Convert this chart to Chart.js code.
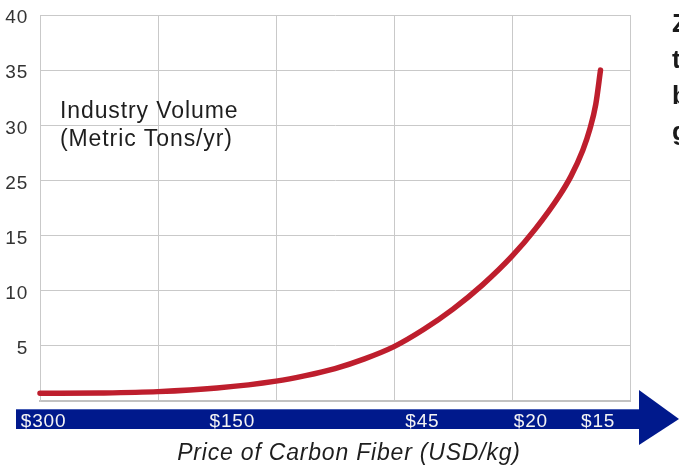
<!DOCTYPE html>
<html>
<head>
<meta charset="utf-8">
<script src="https://cdn.jsdelivr.net/npm/chart.js@4/dist/chart.umd.min.js"></script>
<style>
  html, body { margin: 0; padding: 0; background: #ffffff; }
  canvas { display: block; }
</style>
</head>
<body>
<canvas id="chart" width="679" height="465"></canvas>
<script>
// Position along the price axis (one unit per vertical gridline)
const pricePositions = [0, 0.5, 1.0, 1.5, 2.0, 2.25, 2.5, 2.75, 3.0, 3.25, 3.5, 3.75, 4.0, 4.2, 4.4, 4.5, 4.6, 4.66, 4.71, 4.75];
// Industry volume at each position, in gridline units (5 per gridline)
const volumes = [0.70, 0.73, 0.85, 1.18, 1.8, 2.3, 2.94, 3.82, 4.93, 6.48, 8.33, 10.53, 13.13, 15.63, 18.59, 20.39, 22.74, 24.66, 26.91, 30.0];

// Labels printed on the horizontal gridlines, bottom to top
const yTickLabels = ['', '5', '10', '15', '25', '30', '35', '40'];

// Price labels on the arrow band and where they sit along the axis
const priceTickPositions = [0.03, 1.63, 3.24, 4.16, 4.73];
const priceTickLabels = ['$300', '$150', '$45', '$20', '$15'];

const axisTitle = 'Price of Carbon Fiber (USD/kg)';
const seriesCaption = ['Industry Volume', '(Metric Tons/yr)'];
const sideLetters = ['Z', 't', 'b', 'g'];

const FONT = "'Liberation Sans', Arial, sans-serif";
const BAND_BLUE = '#00198c';

// Blue arrow band under the plot; price labels are drawn on top by the price scale
const arrowBand = {
  id: 'arrowBand',
  beforeDraw(chart) {
    const { ctx, chartArea } = chart;
    const top = chartArea.bottom + 8;
    const bottom = chartArea.bottom + 28;
    const left = chartArea.left - 24;
    const headX = chartArea.right + 9;
    const tipX = chart.width;
    const midY = (top + bottom) / 2;
    ctx.letterSpacing = '0.8px';
    ctx.save();
    ctx.fillStyle = BAND_BLUE;
    ctx.fillRect(left, top, headX - left + 1, bottom - top);
    ctx.beginPath();
    ctx.moveTo(headX, chartArea.bottom - 11);
    ctx.lineTo(tipX, midY);
    ctx.lineTo(headX, chartArea.bottom + 44);
    ctx.closePath();
    ctx.fill();
    ctx.fillStyle = 'rgba(120,140,210,0.6)';
    ctx.fillRect(left, top, headX - left, 1);
    ctx.restore();
  },
  afterDraw(chart) {
    const { ctx, chartArea } = chart;
    ctx.save();
    ctx.letterSpacing = '0.9px';
    ctx.fillStyle = '#1e1e1e';
    ctx.textAlign = 'left';
    ctx.textBaseline = 'alphabetic';
    ctx.font = '23px ' + FONT;
    ctx.fillText(seriesCaption[0], chartArea.left + 20, 118);
    ctx.fillText(seriesCaption[1], chartArea.left + 20, 146);

    ctx.letterSpacing = '0.8px';
    ctx.textAlign = 'center';
    ctx.font = 'italic 23px ' + FONT;
    ctx.fillText(axisTitle, 349, 460);

    ctx.letterSpacing = '0px';
    ctx.textAlign = 'left';
    ctx.font = 'bold 26px ' + FONT;
    ctx.fillStyle = '#1a1a1a';
    sideLetters.forEach((t, i) => ctx.fillText(t, 672, 32 + i * 36));
    ctx.restore();
  }
};

const points = pricePositions.map((x, i) => ({ x, y: volumes[i] }));

new Chart(document.getElementById('chart'), {
  type: 'line',
  data: {
    datasets: [{
      data: points,
      borderColor: '#be1e2d',
      borderWidth: 5.5,
      borderCapStyle: 'round',
      borderJoinStyle: 'round',
      pointRadius: 0,
      cubicInterpolationMode: 'monotone',
      fill: false,
      clip: false
    }]
  },
  options: {
    responsive: false,
    devicePixelRatio: 1,
    animation: false,
    events: [],
    layout: { padding: { top: 15, right: 49, bottom: 34, left: 0 } },
    plugins: {
      legend: { display: false },
      tooltip: { enabled: false },
      title: { display: false }
    },
    scales: {
      x: {
        type: 'linear',
        position: 'bottom',
        min: 0,
        max: 5,
        ticks: { display: false, stepSize: 1 },
        grid: { color: '#c9c9c9', lineWidth: 1, drawTicks: false },
        border: { color: '#c2c2c2', width: 2 }
      },
      price: {
        type: 'linear',
        position: 'bottom',
        axis: 'x',
        min: 0,
        max: 5,
        afterBuildTicks(scale) {
          scale.ticks = priceTickPositions.map(v => ({ value: v }));
        },
        afterFit(scale) {
          scale.height = 30;
          scale.paddingLeft = 0;
          scale.paddingRight = 0;
        },
        ticks: {
          autoSkip: false,
          maxRotation: 0,
          padding: 9,
          color: '#f4f4f4',
          font: { family: FONT, size: 19 },
          callback: (v, i) => priceTickLabels[i]
        },
        grid: { display: false, drawTicks: false },
        border: { display: false }
      },
      y: {
        type: 'linear',
        min: 0,
        max: 35,
        afterFit(scale) {
          scale.width = 40;
          scale.paddingTop = 0;
          scale.paddingBottom = 0;
        },
        ticks: {
          stepSize: 5,
          padding: 12,
          labelOffset: 3,
          color: '#333333',
          font: { family: FONT, size: 19 },
          callback: (v) => yTickLabels[Math.round(v / 5)]
        },
        grid: { color: '#c9c9c9', lineWidth: 1, drawTicks: false },
        border: { color: '#c9c9c9', width: 1 }
      }
    }
  },
  plugins: [arrowBand]
});
</script>
</body>
</html>
